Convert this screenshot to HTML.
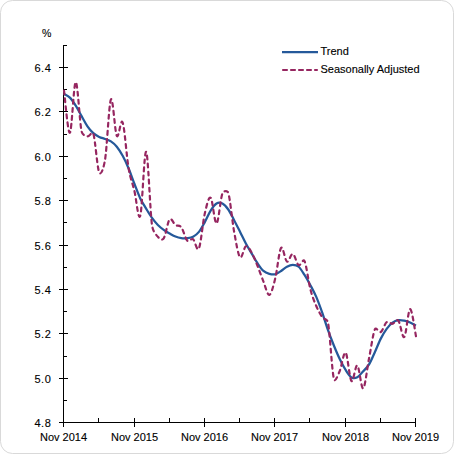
<!DOCTYPE html>
<html><head><meta charset="utf-8"><style>
html,body{margin:0;padding:0;background:#fff;}
svg{display:block;font-family:'Liberation Sans', sans-serif;}
</style></head><body>
<svg width="454" height="454" viewBox="0 0 454 454" xmlns="http://www.w3.org/2000/svg">
<rect x="0.5" y="0.5" width="453" height="453" rx="12" ry="12" fill="#fff" stroke="#d9d9d9" stroke-width="1"/>
<path d="M63.5,45 V422.5 M63,422.5 H416 M59,422.5 H68 M59,378.5 H68 M59,333.5 H68 M59,289.5 H68 M59,245.5 H68 M59,200.5 H68 M59,156.5 H68 M59,111.5 H68 M59,67.5 H68 M63,400.5 H67 M63,356.5 H67 M63,311.5 H67 M63,267.5 H67 M63,222.5 H67 M63,178.5 H67 M63,134.5 H67 M63,89.5 H67 M63,45.5 H67 M63.5,418 V427 M134.5,418 V427 M204.5,418 V427 M274.5,418 V427 M345.5,418 V427 M415.5,418 V427 M98.5,418 V422 M169.5,418 V422 M239.5,418 V422 M309.5,418 V422 M380.5,418 V422" stroke="#000" stroke-width="1" fill="none" shape-rendering="crispEdges"/>
<path d="M64.00,93.90 C64.98,94.53 67.91,95.72 69.87,97.67 C71.82,99.63 73.78,102.59 75.73,105.66 C77.69,108.73 79.64,112.65 81.60,116.09 C83.56,119.53 85.51,123.45 87.47,126.30 C89.42,129.14 91.38,131.40 93.33,133.17 C95.29,134.95 97.24,135.99 99.20,136.95 C101.16,137.91 103.11,138.20 105.07,138.94 C107.02,139.68 108.98,140.09 110.93,141.38 C112.89,142.68 114.84,144.31 116.80,146.71 C118.76,149.11 120.71,152.22 122.67,155.81 C124.62,159.39 126.58,163.57 128.53,168.23 C130.49,172.89 132.44,178.73 134.40,183.76 C136.36,188.79 138.31,194.26 140.27,198.41 C142.22,202.55 144.18,205.36 146.13,208.61 C148.09,211.87 150.04,215.19 152.00,217.93 C153.96,220.67 155.91,223.03 157.87,225.03 C159.82,227.03 161.78,228.51 163.73,229.91 C165.69,231.32 167.64,232.35 169.60,233.46 C171.56,234.57 173.51,235.79 175.47,236.57 C177.42,237.35 179.38,237.86 181.33,238.12 C183.29,238.38 185.24,238.34 187.20,238.12 C189.16,237.90 191.11,237.83 193.07,236.79 C195.02,235.76 196.98,234.35 198.93,231.91 C200.89,229.47 202.84,225.70 204.80,222.15 C206.76,218.60 208.71,213.72 210.67,210.61 C212.62,207.50 214.58,204.69 216.53,203.51 C218.49,202.33 220.44,202.51 222.40,203.51 C224.36,204.51 226.31,206.73 228.27,209.50 C230.22,212.27 232.18,216.45 234.13,220.15 C236.09,223.85 238.04,227.80 240.00,231.69 C241.96,235.57 243.91,239.79 245.87,243.45 C247.82,247.11 249.78,250.32 251.73,253.65 C253.69,256.98 255.64,260.53 257.60,263.42 C259.56,266.30 261.51,269.22 263.47,270.96 C265.42,272.70 267.38,273.29 269.33,273.84 C271.29,274.40 273.24,274.77 275.20,274.29 C277.16,273.81 279.11,272.22 281.07,270.96 C283.02,269.70 284.98,267.74 286.93,266.74 C288.89,265.75 290.84,264.97 292.80,264.97 C294.76,264.97 296.71,265.08 298.67,266.74 C300.62,268.41 302.58,271.88 304.53,274.95 C306.49,278.02 308.44,281.50 310.40,285.16 C312.36,288.82 314.31,292.37 316.27,296.92 C318.22,301.47 320.18,306.90 322.13,312.45 C324.09,318.00 326.04,324.69 328.00,330.20 C329.96,335.71 331.91,340.70 333.87,345.51 C335.82,350.32 337.78,354.98 339.73,359.04 C341.69,363.11 343.64,366.85 345.60,369.92 C347.56,372.98 349.51,376.24 351.47,377.46 C353.42,378.68 355.38,378.27 357.33,377.24 C359.29,376.20 361.24,373.39 363.20,371.25 C365.16,369.10 367.11,367.59 369.07,364.37 C371.02,361.15 372.98,356.23 374.93,351.94 C376.89,347.65 378.84,342.48 380.80,338.63 C382.76,334.79 384.71,331.53 386.67,328.87 C388.62,326.21 390.58,324.10 392.53,322.66 C394.49,321.21 396.44,320.55 398.40,320.22 C400.36,319.88 402.31,320.29 404.27,320.66 C406.22,321.03 408.18,321.62 410.13,322.43 C412.09,323.25 415.02,325.02 416.00,325.54" stroke="#25599a" stroke-width="2.25" fill="none" stroke-linejoin="round"/>
<path d="M64.00,90.57 C64.98,97.60 67.91,134.14 69.87,132.73 C71.82,131.33 73.78,82.37 75.73,82.14 C77.69,81.92 79.64,122.38 81.60,131.40 C82.41,135.13 85.51,135.91 87.47,136.28 C89.42,136.65 92.34,130.55 93.33,133.62 C95.29,139.65 97.24,168.12 99.20,172.45 C101.16,176.77 103.94,166.56 105.07,159.58 C107.02,147.41 108.98,103.41 110.93,99.45 C112.89,95.49 114.84,131.99 116.80,135.84 C118.76,139.68 120.71,117.20 122.67,122.52 C124.62,127.85 126.58,156.40 128.53,167.79 C130.49,179.18 132.44,182.87 134.40,190.86 C136.36,198.85 138.31,222.22 140.27,215.71 C142.22,209.20 144.18,150.26 146.13,151.81 C148.09,153.37 150.04,210.87 152.00,225.03 C152.90,231.54 155.91,234.57 157.87,236.79 C159.82,239.01 162.03,240.86 163.73,238.34 C165.69,235.46 167.64,221.70 169.60,219.48 C171.56,217.27 173.51,223.74 175.47,225.03 C177.42,226.33 179.44,224.75 181.33,227.25 C183.29,229.84 185.24,238.57 187.20,240.56 C189.16,242.56 191.11,237.94 193.07,239.23 C195.02,240.53 196.98,252.62 198.93,248.33 C200.89,244.04 202.84,221.92 204.80,213.49 C206.70,205.31 208.71,196.08 210.67,197.74 C212.62,199.40 214.58,224.18 216.53,223.48 C218.49,222.78 220.44,198.63 222.40,193.53 C223.46,190.77 227.40,190.04 228.27,192.86 C230.22,199.22 232.18,220.96 234.13,231.69 C236.09,242.41 238.04,254.76 240.00,257.20 C241.96,259.64 243.91,247.07 245.87,246.33 C247.82,245.59 249.78,249.47 251.73,252.77 C253.69,256.06 255.64,261.27 257.60,266.08 C259.56,270.89 261.51,276.80 263.47,281.61 C265.42,286.42 267.38,295.44 269.33,294.92 C271.29,294.40 273.24,286.34 275.20,278.50 C277.16,270.66 279.11,250.69 281.07,247.88 C283.02,245.07 284.98,260.64 286.93,261.64 C288.89,262.64 290.84,253.28 292.80,253.88 C294.76,254.47 296.71,263.97 298.67,265.19 C300.62,266.41 302.98,258.00 304.53,261.20 C306.49,265.23 308.44,281.91 310.40,289.37 C312.36,296.84 314.31,301.43 316.27,306.02 C318.22,310.60 320.18,314.11 322.13,316.89 C324.09,319.66 327.23,318.61 328.00,322.66 C329.96,332.97 331.91,370.73 333.87,378.79 C335.01,383.52 337.78,375.39 339.73,371.02 C341.69,366.66 343.64,350.95 345.60,352.61 C347.56,354.27 349.51,378.86 351.47,381.01 C353.42,383.15 355.38,364.26 357.33,365.48 C359.29,366.70 361.24,389.55 363.20,388.33 C365.16,387.11 367.11,367.99 369.07,358.16 C371.02,348.32 372.98,333.68 374.93,329.31 C376.25,326.37 378.84,333.16 380.80,331.97 C382.76,330.79 384.71,323.58 386.67,322.21 C388.62,320.84 390.58,324.02 392.53,323.77 C394.49,323.51 396.44,318.44 398.40,320.66 C400.36,322.88 402.31,339.00 404.27,337.08 C406.22,335.16 408.18,309.27 410.13,309.12 C412.09,308.97 415.02,331.68 416.00,336.19" stroke="#962660" stroke-width="2.2" fill="none" stroke-dasharray="3.8 4.2" stroke-linecap="round" stroke-linejoin="round"/>
<path d="M282,52 H318" stroke="#25599a" stroke-width="2.25"/>
<path d="M283,70 H317" stroke="#962660" stroke-width="2.1" stroke-dasharray="4 4" stroke-linecap="round"/>
<g font-size="11" fill="#000" stroke="#000" stroke-width="0.12"><text x="51.5" y="71.5" text-anchor="end" letter-spacing="0.6">6.4</text>
<text x="51.5" y="115.5" text-anchor="end" letter-spacing="0.6">6.2</text>
<text x="51.5" y="160.5" text-anchor="end" letter-spacing="0.6">6.0</text>
<text x="51.5" y="204.5" text-anchor="end" letter-spacing="0.6">5.8</text>
<text x="51.5" y="249.5" text-anchor="end" letter-spacing="0.6">5.6</text>
<text x="51.5" y="293.5" text-anchor="end" letter-spacing="0.6">5.4</text>
<text x="51.5" y="337.5" text-anchor="end" letter-spacing="0.6">5.2</text>
<text x="51.5" y="382.5" text-anchor="end" letter-spacing="0.6">5.0</text>
<text x="51.5" y="426.5" text-anchor="end" letter-spacing="0.6">4.8</text>
<text x="41.9" y="37" textLength="9.4" lengthAdjust="spacingAndGlyphs">%</text>
<text x="63.5" y="441" text-anchor="middle">Nov 2014</text>
<text x="134.5" y="441" text-anchor="middle">Nov 2015</text>
<text x="204.5" y="441" text-anchor="middle">Nov 2016</text>
<text x="274.5" y="441" text-anchor="middle">Nov 2017</text>
<text x="345.5" y="441" text-anchor="middle">Nov 2018</text>
<text x="415.5" y="441" text-anchor="middle">Nov 2019</text>
<text x="320.5" y="54.8">Trend</text>
<text x="320.5" y="72.6">Seasonally Adjusted</text></g>
</svg>
</body></html>
